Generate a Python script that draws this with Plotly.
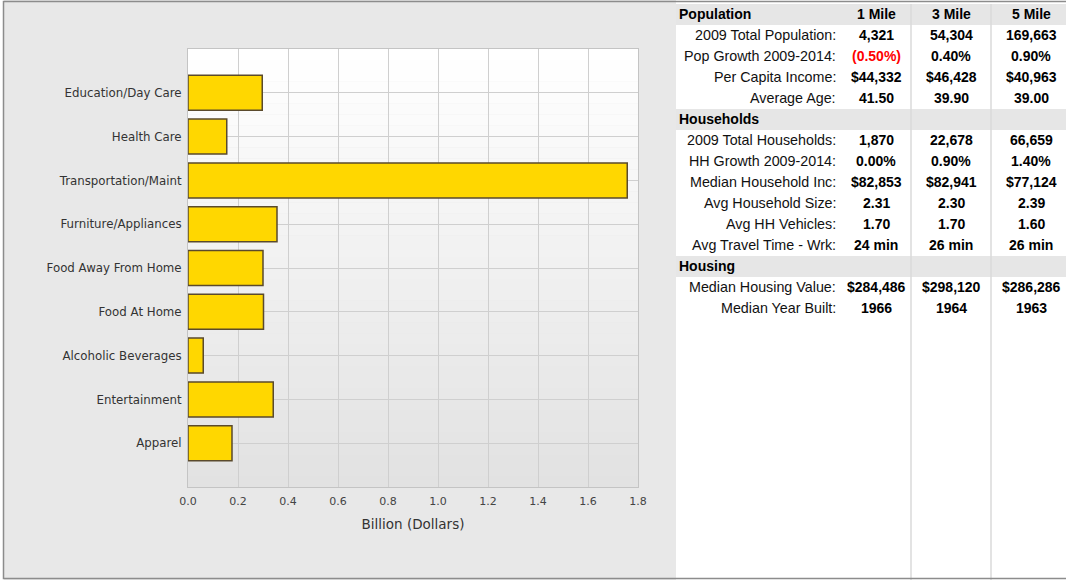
import plotly.graph_objects as go

# ---- Consumer spending (billions of dollars), top to bottom ----
categories = [
    "Education/Day Care",
    "Health Care",
    "Transportation/Maint",
    "Furniture/Appliances",
    "Food Away From Home",
    "Food At Home",
    "Alcoholic Beverages",
    "Entertainment",
    "Apparel",
]
spending = [0.297, 0.155, 1.757, 0.356, 0.300, 0.302, 0.061, 0.341, 0.176]

# ---- Demographic summary table ----
radius_headers = ["1 Mile", "3 Mile", "5 Mile"]

pop_labels = ["2009 Total Population:", "Pop Growth 2009-2014:",
              "Per Capita Income:", "Average Age:"]
pop_1mi = ["4,321", "(0.50%)", "$44,332", "41.50"]
pop_3mi = ["54,304", "0.40%", "$46,428", "39.90"]
pop_5mi = ["169,663", "0.90%", "$40,963", "39.00"]

hh_labels = ["2009 Total Households:", "HH Growth 2009-2014:",
             "Median Household Inc:", "Avg Household Size:",
             "Avg HH Vehicles:", "Avg Travel Time - Wrk:"]
hh_1mi = ["1,870", "0.00%", "$82,853", "2.31", "1.70", "24 min"]
hh_3mi = ["22,678", "0.90%", "$82,941", "2.30", "1.70", "26 min"]
hh_5mi = ["66,659", "1.40%", "$77,124", "2.39", "1.60", "26 min"]

housing_labels = ["Median Housing Value:", "Median Year Built:"]
housing_1mi = ["$284,486", "1966"]
housing_3mi = ["$298,120", "1964"]
housing_5mi = ["$286,286", "1963"]

W, H = 1066, 580
PANEL_GRAY = "#e8e8e8"
SECTION_GRAY = "#e6e6e6"
DIVIDER = "#dadada"
CLEAR = "rgba(0,0,0,0)"
TABLE_FONT = "Liberation Sans, Arial, Helvetica, sans-serif"
AXIS_FONT = "DejaVu Sans, Verdana, sans-serif"

# table geometry (pixels)
TABLE_LEFT = 676
TABLE_TOP = 4
ROW_H = 21
LABEL_RIGHT = 838
SECTION_LEFT = 677
VALUE_CENTERS = [876, 951, 1031]
COL_DIVIDERS = [911, 991]


def px(x):
    return x / W


def py(y):
    return 1 - y / H


fig = go.Figure()

fig.add_trace(go.Bar(
    y=categories,
    x=spending,
    orientation="h",
    marker=dict(color="#ffd700", line=dict(color="#5a4a2c", width=1.5)),
    width=0.8,
    hoverinfo="x+y",
    showlegend=False,
))

# ---- table rows: a gray section row followed by its data rows ----
sections = [
    ("Population", radius_headers, pop_labels, pop_1mi, pop_3mi, pop_5mi),
    ("Households", None, hh_labels, hh_1mi, hh_3mi, hh_5mi),
    ("Housing", None, housing_labels, housing_1mi, housing_3mi, housing_5mi),
]

shapes = [
    # left panel background
    dict(type="rect", xref="paper", yref="paper", x0=px(4), x1=px(TABLE_LEFT),
         y0=0, y1=1, fillcolor=PANEL_GRAY, line=dict(width=0), layer="below"),
]

# plot-area vertical gradient (white at top to light gray at bottom)
n_bands = 40
for i in range(n_bands):
    t = i / (n_bands - 1)
    g = round(255 - (255 - 226) * t)
    shapes.append(dict(
        type="rect", xref="x domain", yref="y domain",
        x0=0, x1=1, y0=1 - (i + 1) / n_bands, y1=1 - i / n_bands,
        fillcolor=f"rgb({g},{g},{g})", line=dict(width=0), layer="below",
    ))

annotations = []
row = 0


def cell_y(r):
    return py(TABLE_TOP + ROW_H * (r + 0.5) - 0.5)


for title, heads, labels, v1, v3, v5 in sections:
    # section band
    shapes.append(dict(type="rect", xref="paper", yref="paper",
                       x0=px(TABLE_LEFT), x1=1,
                       y0=py(TABLE_TOP + ROW_H * (row + 1)), y1=py(TABLE_TOP + ROW_H * row),
                       fillcolor=SECTION_GRAY, line=dict(width=0), layer="below"))
    annotations.append(dict(text=f"<b>{title}</b>", x=px(SECTION_LEFT), y=cell_y(row),
                            xanchor="left", yanchor="middle",
                            font=dict(family=TABLE_FONT, size=14, color="#000000")))
    if heads:
        for h, cx in zip(heads, VALUE_CENTERS):
            annotations.append(dict(text=f"<b>{h}</b>", x=px(cx), y=cell_y(row),
                                    xanchor="center", yanchor="middle",
                                    font=dict(family=TABLE_FONT, size=14, color="#000000")))
    row += 1
    for lab, a, b, c in zip(labels, v1, v3, v5):
        annotations.append(dict(text=lab, x=px(LABEL_RIGHT), y=cell_y(row),
                                xanchor="right", yanchor="middle",
                                font=dict(family=TABLE_FONT, size=14.3, color="#111111")))
        for val, cx in zip((a, b, c), VALUE_CENTERS):
            colour = "#ff0000" if val.startswith("(") else "#000000"
            annotations.append(dict(text=f"<b>{val}</b>", x=px(cx), y=cell_y(row),
                                    xanchor="center", yanchor="middle",
                                    font=dict(family=TABLE_FONT, size=14, color=colour)))
        row += 1

# table column dividers
for xd in COL_DIVIDERS:
    shapes.append(dict(type="line", xref="paper", yref="paper",
                       x0=px(xd), x1=px(xd), y0=0, y1=py(TABLE_TOP),
                       line=dict(color=DIVIDER, width=1.5), layer="below"))

# outer frame
shapes.append(dict(type="rect", xref="paper", yref="paper",
                   x0=px(3.5), x1=1.01, y0=py(578.5), y1=py(1.5),
                   line=dict(color="#8c8c8c", width=1.5), fillcolor=CLEAR, layer="above"))

for a in annotations:
    a.update(xref="paper", yref="paper", showarrow=False)

fig.update_layout(
    width=W, height=H,
    margin=dict(l=0, r=0, t=0, b=0, autoexpand=False),
    paper_bgcolor="#ffffff",
    plot_bgcolor=CLEAR,
    shapes=shapes,
    annotations=annotations,
    bargap=0.2,
    xaxis=dict(
        domain=[px(188), px(638)],
        range=[0, 1.8], dtick=0.2, tickformat=".1f",
        showgrid=True, gridcolor="#cfcfcf", gridwidth=1,
        zeroline=False,
        showline=True, mirror=True, linecolor="#c4c4c4", linewidth=1,
        ticks="", ticklabelstandoff=4,
        tickfont=dict(family=AXIS_FONT, size=11, color="#444444"),
        title=dict(text="Billion (Dollars)", standoff=12,
                   font=dict(family=AXIS_FONT, size=13.5, color="#333333")),
        automargin=False,
        fixedrange=True,
    ),
    yaxis=dict(
        domain=[py(487), py(49)],
        type="category",
        range=[len(categories), -1],
        showgrid=True, gridcolor="#cfcfcf", gridwidth=1,
        showline=True, mirror=True, linecolor="#c4c4c4", linewidth=1,
        ticks="", ticklabelstandoff=3,
        tickfont=dict(family=AXIS_FONT, size=11.8, color="#333333"),
        automargin=False,
        fixedrange=True,
    ),
)

fig.write_html("out.html")
